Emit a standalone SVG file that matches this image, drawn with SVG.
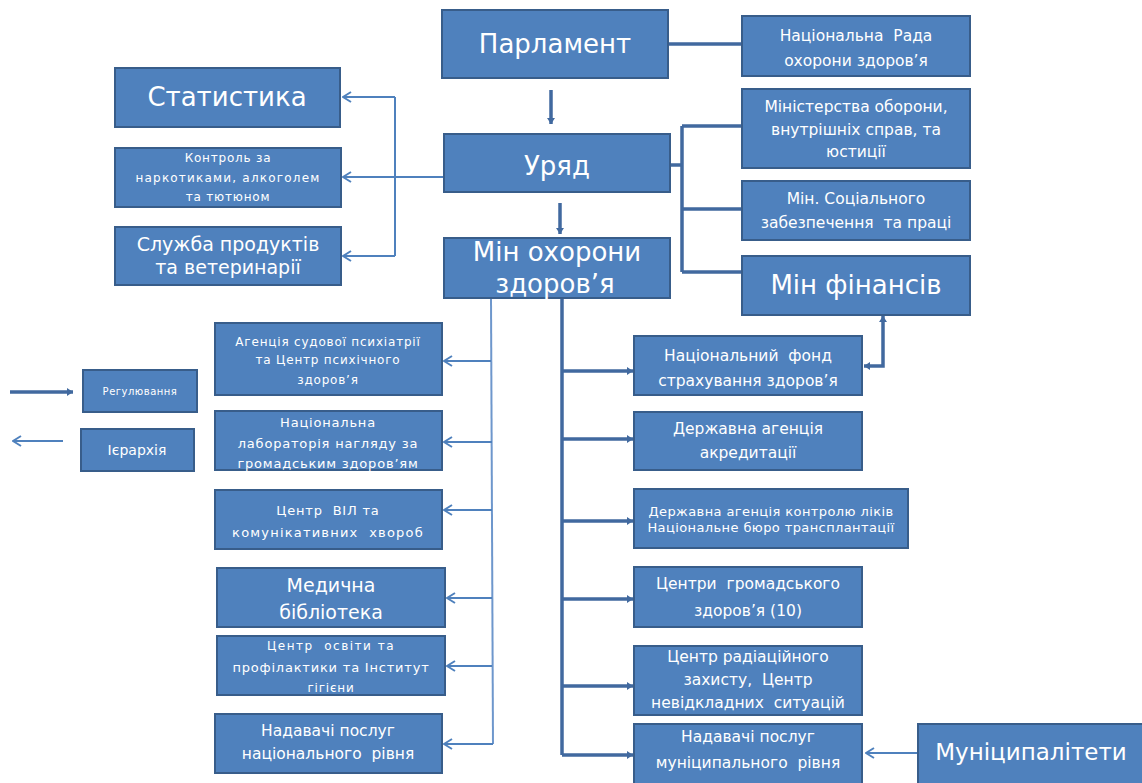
<svg xmlns="http://www.w3.org/2000/svg" width="1142" height="783" viewBox="0 0 1142 783">
<style>
.b{fill:#4F81BD;stroke:#385D8A;stroke-width:2}
text{fill:#FFFFFF;font-family:"DejaVu Sans","Liberation Sans",sans-serif;text-anchor:middle}
.xl{font-size:26px}
.l{font-size:19px}
.m{font-size:15.5px}
.s{font-size:13px;letter-spacing:0.8px}
.xs{font-size:12px;letter-spacing:0.8px}
.thin{stroke:#4F81BD;stroke-width:2;fill:none}
.trunk{stroke:#6E97CC;stroke-width:2;fill:none}
.thick{stroke:#41699F;stroke-width:3.5;fill:none}
</style>
<defs>
<marker id="open" viewBox="0 0 10 12" refX="9" refY="6" markerWidth="10" markerHeight="12" markerUnits="userSpaceOnUse" orient="auto">
<path d="M1,1 L9,6 L1,11" fill="none" stroke="#4F81BD" stroke-width="2"/>
</marker>
<marker id="solid" viewBox="0 0 6 8" refX="6" refY="4" markerWidth="6" markerHeight="8" markerUnits="userSpaceOnUse" orient="auto-start-reverse">
<path d="M0,0 L6,4 L0,8 z" fill="#41699F"/>
</marker>
</defs>

<g id="connectors">
<line class="thick" x1="551" y1="90" x2="551" y2="124" marker-end="url(#solid)"/>
<line class="thick" x1="560" y1="203" x2="560" y2="234" stroke-width="4" marker-end="url(#solid)"/>
<line class="thick" x1="668" y1="44" x2="742" y2="44"/>
<path class="thick" d="M670,165 L682,165 M682,126 L682,272 M682,126 L742,126 M682,209 L742,209 M682,272 L742,272"/>
<path class="thin" d="M444,177 L395,177 M395,97 L395,256"/>
<line class="thin" x1="395" y1="97" x2="343" y2="97" marker-end="url(#open)"/>
<line class="thin" x1="395" y1="177" x2="343" y2="177" marker-end="url(#open)"/>
<line class="thin" x1="395" y1="256" x2="343" y2="256" marker-end="url(#open)"/>
<line class="trunk" x1="491" y1="298" x2="493" y2="744"/>
<line class="thin" x1="491" y1="361" x2="444" y2="361" marker-end="url(#open)"/>
<line class="thin" x1="492" y1="442" x2="444" y2="442" marker-end="url(#open)"/>
<line class="thin" x1="492" y1="510" x2="444" y2="510" marker-end="url(#open)"/>
<line class="thin" x1="492" y1="598" x2="447" y2="598" marker-end="url(#open)"/>
<line class="thin" x1="492" y1="666" x2="447" y2="666" marker-end="url(#open)"/>
<line class="thin" x1="493" y1="744" x2="444" y2="744" marker-end="url(#open)"/>
<line class="thick" x1="562" y1="298" x2="562" y2="755" stroke-width="4"/>
<line class="thick" x1="562" y1="371" x2="633" y2="371" marker-end="url(#solid)"/>
<line class="thick" x1="562" y1="439" x2="633" y2="439" marker-end="url(#solid)"/>
<line class="thick" x1="562" y1="521" x2="633" y2="521" marker-end="url(#solid)"/>
<line class="thick" x1="562" y1="599" x2="633" y2="599" marker-end="url(#solid)"/>
<line class="thick" x1="562" y1="686" x2="633" y2="686" marker-end="url(#solid)"/>
<line class="thick" x1="562" y1="755" x2="633" y2="755" marker-end="url(#solid)"/>
<path class="thick" d="M864,366 L883,366 L883,316" stroke-width="4" marker-start="url(#solid)" marker-end="url(#solid)"/>
<line class="thin" x1="918" y1="753" x2="866" y2="753" marker-end="url(#open)"/>
<line class="thick" x1="10" y1="392" x2="73" y2="392" stroke="#3A6096" stroke-width="4" marker-end="url(#solid)"/>
<line class="thin" x1="63" y1="441" x2="13" y2="441" marker-end="url(#open)"/>
</g>

<g id="parlament"><rect class="b" x="442" y="10" width="226" height="68"/><text class="xl" x="555" y="53">Парламент</text></g>
<g id="uryad"><rect class="b" x="444" y="134" width="226" height="58"/><text class="xl" x="557" y="175">Уряд</text></g>
<g id="min-oz"><rect class="b" x="444" y="238" width="226" height="60"/><text class="xl" x="557" y="261">Мін охорони</text><text class="xl" x="555" y="293">здоров’я</text></g>

<g id="statystyka"><rect class="b" x="115" y="68" width="225" height="59"/><text class="xl" x="227" y="106">Статистика</text></g>
<g id="kontrol"><rect class="b" x="115" y="148" width="226" height="59"/><text class="xs" x="228" y="162">Контроль за</text><text class="xs" x="228" y="182" style="letter-spacing:1.2px">наркотиками, алкоголем</text><text class="xs" x="228" y="201">та тютюном</text></g>
<g id="sluzhba"><rect class="b" x="115" y="227" width="226" height="58"/><text class="l" x="228" y="251">Служба продуктів</text><text class="l" x="228" y="274">та ветеринарії</text></g>

<g id="nac-rada"><rect class="b" x="742" y="16" width="228" height="60"/><text class="m" x="856" y="41" xml:space="preserve">Національна  Рада</text><text class="m" x="856" y="66">охорони здоров’я</text></g>
<g id="min-oborony"><rect class="b" x="742" y="89" width="228" height="79"/><text class="m" x="856" y="112">Міністерства оборони,</text><text class="m" x="856" y="135">внутрішніх справ, та</text><text class="m" x="856" y="157">юстиції</text></g>
<g id="min-soc"><rect class="b" x="742" y="181" width="228" height="59"/><text class="m" x="856" y="204">Мін. Соціального</text><text class="m" x="856" y="228" xml:space="preserve">забезпечення  та праці</text></g>
<g id="min-fin"><rect class="b" x="742" y="256" width="228" height="59"/><text class="xl" x="856" y="294">Мін фінансів</text></g>

<g id="agencia-psych"><rect class="b" x="215" y="323" width="227" height="72"/><text class="xs" x="328" y="346">Агенція судової психіатрії</text><text class="xs" x="328" y="364">та Центр психічного</text><text class="xs" x="328" y="384">здоров’я</text></g>
<g id="nac-lab"><rect class="b" x="215" y="411" width="227" height="59"/><text class="s" x="328" y="427">Національна</text><text class="s" x="328" y="448">лабораторія нагляду за</text><text class="s" x="328" y="468">громадським здоров’ям</text></g>
<g id="centr-vil"><rect class="b" x="215" y="490" width="227" height="59"/><text class="s" x="328" y="515" xml:space="preserve">Центр  ВІЛ та</text><text class="s" x="328" y="537" style="letter-spacing:1.2px" xml:space="preserve">комунікативних  хвороб</text></g>
<g id="med-bib"><rect class="b" x="217" y="568" width="228" height="59"/><text class="l" x="331" y="592">Медична</text><text class="l" x="331" y="619">бібліотека</text></g>
<g id="centr-osvity"><rect class="b" x="217" y="636" width="228" height="59"/><text class="xs" x="331" y="650" style="letter-spacing:1.5px" xml:space="preserve">Центр  освіти та</text><text class="s" x="331" y="672">профілактики та Інститут</text><text class="xs" x="331" y="692">гігієни</text></g>
<g id="nadavachi-nac"><rect class="b" x="215" y="714" width="227" height="59"/><text class="m" x="328" y="736">Надавачі послуг</text><text class="m" x="328" y="759" xml:space="preserve">національного  рівня</text></g>

<g id="nac-fond"><rect class="b" x="634" y="336" width="228" height="59"/><text class="m" x="748" y="361" xml:space="preserve">Національний  фонд</text><text class="m" x="748" y="386">страхування здоров’я</text></g>
<g id="akredytacia"><rect class="b" x="634" y="412" width="228" height="58"/><text class="m" x="748" y="434">Державна агенція</text><text class="m" x="748" y="458">акредитації</text></g>
<g id="kontrol-likiv"><rect class="b" x="634" y="489" width="274" height="59"/><text class="s" x="771" y="516" style="letter-spacing:0.4px">Державна агенція контролю ліків</text><text class="s" x="771" y="532" style="letter-spacing:0.4px">Національне бюро трансплантації</text></g>
<g id="centry-gromad"><rect class="b" x="634" y="567" width="228" height="60"/><text class="m" x="748" y="589" xml:space="preserve">Центри  громадського</text><text class="m" x="748" y="616">здоров’я (10)</text></g>
<g id="centr-radiac"><rect class="b" x="634" y="646" width="228" height="69"/><text class="m" x="748" y="662">Центр радіаційного</text><text class="m" x="748" y="685" xml:space="preserve">захисту,  Центр</text><text class="m" x="748" y="708" xml:space="preserve">невідкладних  ситуацій</text></g>
<g id="nadavachi-mun"><rect class="b" x="634" y="724" width="228" height="60"/><text class="m" x="748" y="742">Надавачі послуг</text><text class="m" x="748" y="768" xml:space="preserve">муніципального  рівня</text></g>
<g id="municipaliteti"><rect class="b" x="918" y="724" width="226" height="60"/><text x="1031" y="760" style="font-size:23px">Муніципалітети</text></g>

<g id="legend-reg"><rect class="b" x="83" y="370" width="114" height="42"/><text x="140" y="395" style="font-size:10px;letter-spacing:0.5px">Регулювання</text></g>
<g id="legend-ier"><rect class="b" x="81" y="429" width="113" height="42"/><text x="137" y="455" style="font-size:14px">Ієрархія</text></g>
</svg>
